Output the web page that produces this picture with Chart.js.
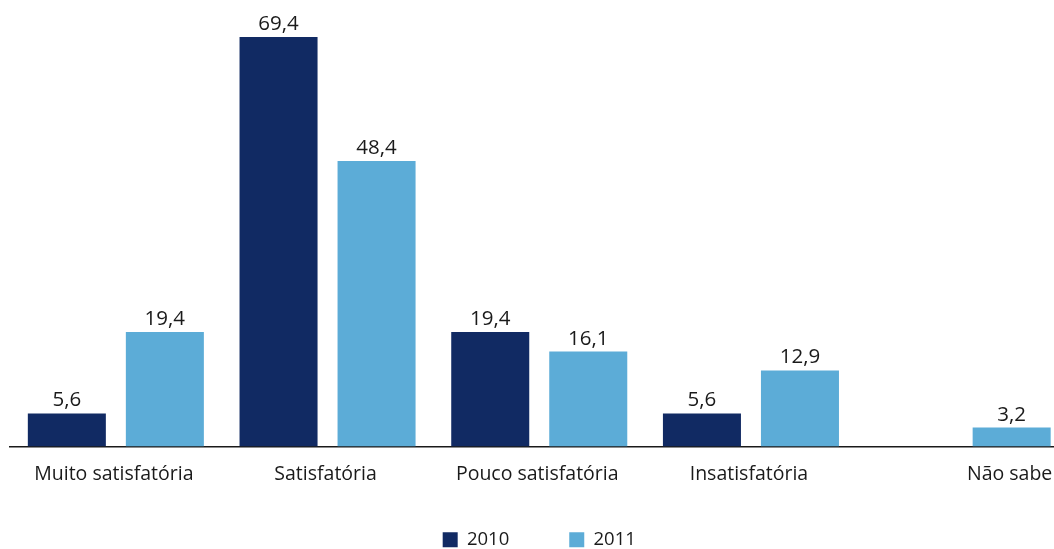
<!DOCTYPE html>
<html>
<head>
<meta charset="utf-8">
<script src="https://cdn.jsdelivr.net/npm/chart.js@4.4.1/dist/chart.umd.min.js"></script>
<style>
  html, body { margin: 0; padding: 0; background: #fff; overflow: hidden; }
  #wrap { position: relative; width: 1070px; height: 559px; }
</style>
</head>
<body>
<div id="wrap"><canvas id="mycanvas"></canvas></div>
<script>
var categories = ["Muito satisfatória", "Satisfatória", "Pouco satisfatória", "Insatisfatória", "Não sabe"];
var values2010 = [5.6, 69.4, 19.4, 5.6, null];
var values2011 = [19.4, 48.4, 16.1, 12.9, 3.2];
var seriesNames = ["2010", "2011"];

function fmt(v) {
    return v.toFixed(1).replace(".", ",");
}

// value labels above bars + category labels under the bars that exist
var labelPlugin = {
    id: "barLabels",
    afterDatasetsDraw: function(chart) {
        var ctx = chart.ctx;
        ctx.save();
        ctx.fillStyle = "#1a1a1a";
        ctx.textAlign = "center";
        ctx.textBaseline = "alphabetic";
        ctx.font = '500 20.5px "Open Sans"';
        chart.data.datasets.forEach(function(ds, i) {
            chart.getDatasetMeta(i).data.forEach(function(bar, j) {
                if (ds.data[j] == null) return;
                ctx.fillText(fmt(ds.data[j]), bar.x, bar.y - 7);
            });
        });
        ctx.font = '19.5px "Open Sans"';
        var bottom = chart.chartArea.bottom;
        categories.forEach(function(c, j) {
            var xs = [];
            chart.data.datasets.forEach(function(ds, i) {
                if (ds.data[j] != null) xs.push(chart.getDatasetMeta(i).data[j].x);
            });
            var x = xs.reduce(function(a, b) { return a + b; }, 0) / xs.length;
            ctx.fillText(c, x - 2, bottom + 33);
        });
        ctx.restore();
    }
};

var chartdata = {
    labels: categories,
    datasets: [
        {
            label: seriesNames[0],
            backgroundColor: "#112a63",
            borderWidth: 0,
            categoryPercentage: 0.926,
            barPercentage: 0.796,
            data: values2010
        },
        {
            label: seriesNames[1],
            backgroundColor: "#5cacd7",
            borderWidth: 0,
            categoryPercentage: 0.926,
            barPercentage: 0.796,
            data: values2011
        }
    ]
};

var ctx = document.getElementById("mycanvas");

var barGraph = new Chart(ctx, {
    type: "bar",
    data: chartdata,
    plugins: [labelPlugin],
    options: {
        responsive: true,
        maintainAspectRatio: false,
        animation: false,
        layout: { padding: { top: 4, left: 10, right: 1.5, bottom: 0 } },
        plugins: {
            tooltip: { enabled: false },
            legend: {
                position: "bottom",
                labels: {
                    boxWidth: 15,
                    boxHeight: 15,
                    padding: 60,
                    color: "#1a1a1a",
                    font: { family: "Open Sans", size: 18.5 }
                }
            }
        },
        scales: {
            x: {
                grid: { display: false, drawTicks: false },
                border: { display: true, color: "#1a1a1a", width: 1.5 },
                ticks: { display: false },
                afterFit: function(scale) { scale.height = 24; }
            },
            y: {
                display: false,
                min: 0,
                max: 75
            }
        }
    }
});
</script>
</body>
</html>
